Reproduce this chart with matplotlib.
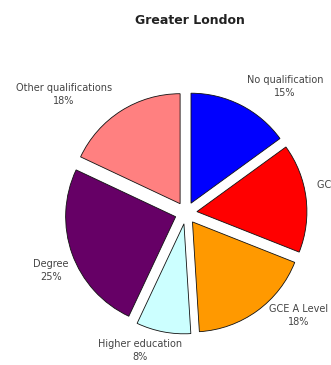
import numpy as np
import matplotlib.pyplot as plt

# qualification shares, Greater London (clockwise from 12 o'clock)
categories = ['No qualification', 'GCSE A*-C', 'GCE A Level', 'Higher education', 'Degree', 'Other qualifications']
shares = [15, 16, 18, 8, 25, 18]
colours = ['#0000ff', '#ff0000', '#ff9900', '#ccffff', '#660066', '#ff8080']

labels = ['%s\n%d%%' % (c, s) for c, s in zip(categories, shares)]

W, H = 331, 365
fig = plt.figure(figsize=(W / 100, H / 100), dpi=100)
ax = fig.add_axes([0, 0, 1, 1])

# pie centre / scale in pixels
cx, cy, R = 186, 213, 110

wedges, texts = ax.pie(shares, colors=colours,
                       startangle=90, counterclock=False,
                       explode=[0.1] * len(shares), radius=1.0,
                       wedgeprops=dict(edgecolor='#111111', linewidth=0.6))
ax.set_aspect('auto')
ax.set_xlim(-cx / R, (W - cx) / R)
ax.set_ylim(-(H - cy) / R, cy / R)
ax.axis('off')

# label anchors (pie units), MATLAB-style placement
label_xy = [(0.90, 1.15), (1.19, 0.20), (1.02, -0.93), (-0.42, -1.25), (-1.23, -0.52), (-1.11, 1.08)]
label_ha = ['center', 'left', 'center', 'center', 'center', 'center']
for lab, (x, y), ha in zip(labels, label_xy, label_ha):
    ax.text(x, y, lab, ha=ha, va='center', multialignment='center',
            fontsize=7, color='#444444', linespacing=1.35, clip_on=False)

fig.text(190 / W, 1 - 21 / H, 'Greater London', ha='center', va='center',
         fontsize=9, fontweight='bold', color='#222222')

fig.savefig('out.png', dpi=100)
